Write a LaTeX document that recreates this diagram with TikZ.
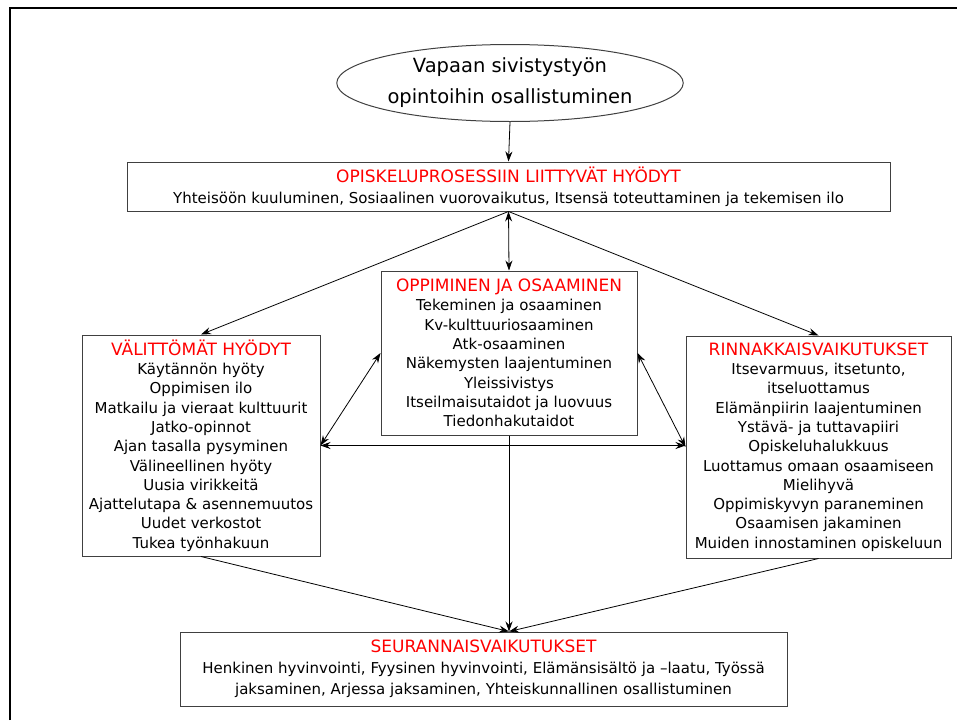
\documentclass[tikz,border=0pt]{standalone}
\usepackage{fontspec}
\setmainfont{DejaVu Sans}
\usetikzlibrary{shapes.geometric,arrows.meta}
\newcommand\hd[1]{{\fontsize{17}{19.3}\selectfont\textcolor{red}{#1}}\\}

\begin{document}
\begin{tikzpicture}[x=1pt, y=-1pt, >={Stealth[length=10pt,width=7pt]},
    main/.style = {draw=black!75, line width=1pt, align=center, inner sep=0pt, font=\fontsize{15}{19.3}\selectfont},
    link/.style = {line width=0.8pt}]
  \useasboundingbox (0,0) rectangle (957,720);
  % slide frame
  \draw[line width=2.5pt] (10,720) -- (10,8) -- (957,8);
  \node[main, ellipse, minimum width=344pt, minimum height=77pt, font=\fontsize{19.5}{31}\selectfont] (0) at (510,83) {Vapaan sivistystyön\\opintoihin osallistuminen};
  \node[main, minimum width=763pt, minimum height=49pt, font=\fontsize{15}{21}\selectfont] (1) at (508.5,186.5) {\hd{OPISKELUPROSESSIIN LIITTYVÄT HYÖDYT}Yhteisöön kuuluminen, Sosiaalinen vuorovaikutus, Itsensä toteuttaminen ja tekemisen ilo};
  \node[main, minimum width=238pt, minimum height=221pt] (2) at (201,445.5) {\hd{VÄLITTÖMÄT HYÖDYT}Käytännön hyöty\\Oppimisen ilo\\Matkailu ja vieraat kulttuurit\\Jatko-opinnot\\Ajan tasalla pysyminen\\Välineellinen hyöty\\Uusia virikkeitä\\Ajattelutapa \& asennemuutos\\Uudet verkostot\\Tukea työnhakuun};
  \node[main, minimum width=256pt, minimum height=164pt] (3) at (509,353) {\hd{OPPIMINEN JA OSAAMINEN}Tekeminen ja osaaminen\\Kv-kulttuuriosaaminen\\Atk-osaaminen\\Näkemysten laajentuminen\\Yleissivistys\\Itseilmaisutaidot ja luovuus\\Tiedonhakutaidot};
  \node[main, minimum width=265pt, minimum height=222pt] (4) at (818.5,447) {\hd{RINNAKKAISVAIKUTUKSET}Itsevarmuus, itsetunto,\\itseluottamus\\Elämänpiirin laajentuminen\\Ystävä- ja tuttavapiiri\\Opiskeluhalukkuus\\Luottamus omaan osaamiseen\\Mielihyvä\\Oppimiskyvyn paraneminen\\Osaamisen jakaminen\\Muiden innostaminen opiskeluun};
  \node[main, minimum width=607pt, minimum height=74pt, font=\fontsize{15}{21}\selectfont] (5) at (483.5,669) {\hd{SEURANNAISVAIKUTUKSET}Henkinen hyvinvointi, Fyysinen hyvinvointi, Elämänsisältö ja –laatu, Työssä\\jaksaminen, Arjessa jaksaminen, Yhteiskunnallinen osallistuminen};
  \coordinate (m) at (3.south |- 5.north);
  \path[link, ->]
    (0.south) edge (1.north)
    (1.south) edge[<->] (3.north)
    (1.south) edge (2.north)
    (1.south) edge (4.north)
    (2.east) edge[<->] (3.west)
    (3.east) edge[<->] (4.west)
    (2.east) edge[<->] (2.east -| 4.west)
    (2.south) edge (m)
    (3.south) edge (m)
    (4.south) edge (m);
\end{tikzpicture}
\end{document}
